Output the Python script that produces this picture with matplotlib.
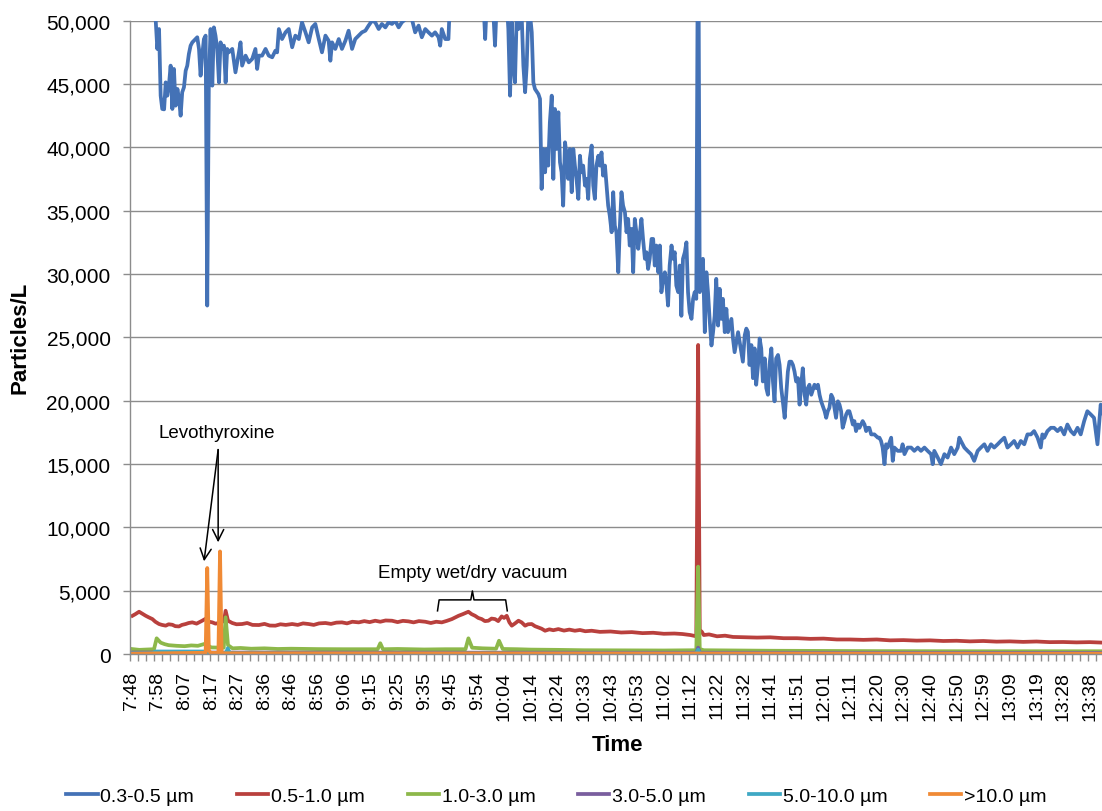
import numpy as np
import matplotlib
matplotlib.use('Agg')
import matplotlib.pyplot as plt
from matplotlib.ticker import FuncFormatter, MultipleLocator

plt.rcParams['font.family'] = ['Liberation Sans', 'DejaVu Sans']

# x is the sample number (one sample ~58 s, first sample at 7:48)
tick_labels = ['7:48', '7:58', '8:07', '8:17', '8:27', '8:36', '8:46', '8:56', '9:06',
               '9:15', '9:25', '9:35', '9:45', '9:54', '10:04', '10:14', '10:24', '10:33',
               '10:43', '10:53', '11:02', '11:12', '11:22', '11:32', '11:41', '11:51',
               '12:01', '12:11', '12:20', '12:30', '12:40', '12:50', '12:59', '13:09',
               '13:19', '13:28', '13:38']
series_names = ['0.3-0.5 µm', '0.5-1.0 µm', '1.0-3.0 µm', '3.0-5.0 µm', '5.0-10.0 µm', '>10.0 µm']
colors = ['#4472b6', '#b9403d', '#8db84a', '#7a5e9e', '#3fa8c4', '#f08a35']

# 0.3-0.5 um (sample, particles/L); values above 50,000 run off the top
blue_pts = [
    (0, 58000), (8.6, 54000), (9.2, 49800), (9.75, 47770), (10.4, 49340), (11.0, 44080),
    (11.6, 43030), (12.3, 43000), (12.9, 45130), (13.5, 44080), (14.1, 44870), (14.75, 46450),
    (15.4, 43030), (16.0, 46190), (16.6, 43290), (17.3, 44610), (17.9, 43820), (18.5, 42500),
    (19.1, 44350), (19.75, 44740), (20.4, 46050), (21.0, 46450), (21.6, 47370), (22.25, 48030),
    (22.9, 48290), (24.1, 48550), (24.75, 48690), (25.4, 47770), (26.0, 45660), (26.6, 47240),
    (27.25, 48550), (27.9, 48820), (28.5, 27510), (29.1, 45130), (29.75, 49340), (30.4, 44870),
    (31.0, 49470), (31.6, 48820), (32.25, 47770), (32.9, 45130), (33.5, 48290), (34.1, 47770),
    (34.75, 48030), (35.4, 45130), (36.0, 47770), (36.6, 47500), (37.9, 47770), (39.1, 45920),
    (40.4, 47500), (41.0, 48290), (41.6, 46450), (42.9, 47240), (44.1, 46710), (45.4, 46980),
    (46.6, 47770), (47.25, 46190), (47.9, 47240), (49.1, 47240), (50.4, 47770), (51.6, 47240),
    (52.9, 47110), (54.1, 47630), (54.75, 47500), (55.4, 49340), (56.6, 48550), (57.9, 49080),
    (59.1, 49340), (60.4, 47900), (61.6, 48820), (62.9, 48550), (64.1, 49870), (65.4, 49080),
    (66.6, 48290), (67.9, 49470), (69.1, 49740), (70.4, 48550), (71.6, 47500), (72.9, 48820),
    (74.1, 48420), (74.75, 46840), (75.4, 48290), (76.6, 47770), (77.9, 48550), (79.1, 47770),
    (80.4, 48420), (81.6, 49210), (82.9, 47770), (84.1, 48550), (85.4, 48820), (86.6, 49080),
    (87.9, 49210), (89.1, 49610), (90.4, 50000), (91.6, 49870), (92.9, 49340), (94.1, 49740),
    (95.4, 49470), (96.6, 49870), (97.9, 49740), (99.1, 50000), (100.4, 49470), (101.6, 49870),
    (102.9, 50100), (104.1, 50200), (105.4, 50100), (106.6, 49080), (107.9, 49610), (109.1, 48690),
    (110.4, 49340), (111.6, 49080), (112.9, 48820), (114.1, 49080), (115.4, 48690), (116.0, 48030),
    (116.6, 49340), (117.9, 48550), (119.1, 48550), (119.75, 52000), (124, 56000), (128, 57000),
    (132.25, 51500), (132.9, 48550), (133.5, 51500), (134.8, 53000), (136.0, 50500), (136.6, 48030),
    (137.25, 51500), (139.0, 55000), (141.0, 51500), (141.6, 49340), (142.25, 44080), (142.9, 49870),
    (143.5, 46450), (144.1, 45130), (144.75, 50500), (145.4, 49340), (146.6, 50500), (147.25, 46450),
    (147.9, 44350), (148.5, 46450), (149.1, 50500), (149.75, 50500), (150.4, 49080), (151.0, 45130),
    (151.6, 44610), (152.9, 44200), (153.5, 43820),
    (154.1, 36720), (154.7, 39870), (155.4, 38030), (156.0, 39870), (156.6, 38560), (157.2, 41980),
    (157.9, 44080), (158.5, 37510), (159.1, 43030), (159.7, 39870), (160.4, 42770), (161.0, 38820),
    (161.6, 38030), (162.2, 35400), (162.9, 40400), (163.5, 39340), (164.1, 37510), (164.7, 39870),
    (165.4, 36460), (166.0, 39870), (166.6, 38560), (167.2, 37510), (167.9, 35930), (168.5, 39340),
    (169.1, 38030), (169.7, 38560), (170.4, 36980), (171.0, 37510), (171.6, 35930), (172.2, 39080),
    (172.9, 40140), (173.5, 36980), (174.1, 35930), (174.7, 38560), (175.4, 39340), (176.0, 38560),
    (176.6, 39600), (177.2, 37770), (177.9, 38560), (178.5, 36980), (179.1, 35400), (179.7, 34610),
    (180.4, 33300), (181.0, 36460), (181.6, 33820), (182.2, 33300), (182.9, 30140), (183.5, 33820),
    (184.1, 36460), (184.7, 35400), (185.4, 34880), (186.0, 33300), (186.6, 34350), (187.2, 32250),
    (187.9, 33560), (188.5, 30140), (189.1, 34350), (189.7, 33300), (190.4, 31990), (191.6, 34350),
    (192.2, 32770), (192.9, 31200), (193.5, 31720), (194.1, 30400), (194.7, 31200), (195.4, 32770),
    (196.0, 32770), (196.6, 30670), (197.2, 32250), (197.9, 30140), (198.5, 32250), (199.1, 28560),
    (199.7, 29620), (200.4, 30140), (201.0, 29090), (201.6, 27510), (202.2, 30670), (202.9, 32250),
    (203.5, 31200), (204.1, 31720), (204.7, 29090), (205.4, 28570), (206.0, 30670), (206.6, 26700),
    (207.2, 31200), (207.9, 31720), (208.5, 32500), (209.1, 28570), (209.7, 26990), (210.4, 26460),
    (211.0, 28040), (211.6, 28570), (212.2, 28040), (212.9, 62000), (213.5, 28570), (214.1, 30140),
    (214.7, 31200), (215.4, 25410), (216.0, 30140), (216.6, 28570), (217.2, 26460), (217.9, 24360),
    (218.5, 25410), (219.1, 26700), (219.7, 29620), (220.4, 25930), (221.0, 28830), (221.6, 26460),
    (222.2, 28040), (222.9, 25410), (223.5, 27250), (224.1, 25410), (225.4, 26460), (226.0, 24880),
    (226.6, 23830), (227.9, 25410), (229.1, 23830),
    (229.7, 23080), (230.4, 25170), (231.0, 25690), (231.6, 25430), (232.2, 22820), (232.9, 24390),
    (233.5, 21780), (234.1, 24130), (234.7, 21260), (235.4, 22820), (236.0, 24910), (236.6, 24130),
    (237.2, 21520), (237.9, 23340), (238.5, 21000), (239.1, 20470), (239.7, 22820), (240.4, 24130),
    (241.0, 21520), (241.6, 19950), (242.2, 23340), (242.9, 23610), (243.5, 22820), (244.1, 21000),
    (244.7, 19950), (245.4, 18650), (246.0, 20470), (246.6, 22300), (247.2, 23080), (247.9, 23080),
    (248.5, 22820), (249.1, 22300), (249.7, 21520), (250.4, 21780), (251.0, 19690), (251.6, 21260),
    (252.2, 22560), (252.9, 20470), (253.5, 19690), (254.1, 21000), (254.7, 21260), (255.4, 20470),
    (256.6, 21260), (257.2, 21000), (257.9, 21260), (258.5, 20470), (259.1, 19950), (260.4, 19170),
    (261.0, 18650), (261.6, 19170), (262.2, 19430), (262.9, 20470), (263.5, 20210), (264.1, 19430),
    (264.7, 18650), (265.4, 19950), (266.0, 19690), (266.6, 19170), (267.2, 17860), (267.9, 18390),
    (268.5, 18910), (269.1, 19170), (269.7, 19170), (270.4, 18650), (271.0, 18120), (271.6, 18390),
    (272.2, 17600), (272.9, 18120), (273.5, 17860), (274.1, 18120), (274.7, 18390), (275.4, 18120),
    (276.0, 17600), (276.6, 17860), (277.2, 17860), (277.9, 17340), (278.5, 17340), (279.1, 17340),
    (280.4, 17080), (281.0, 17080), (281.6, 16820), (282.2, 16300), (282.9, 14990), (283.5, 16560),
    (284.1, 16300), (285.4, 17080), (286.0, 15250), (286.6, 16300), (287.9, 16040), (289.1, 16040),
    (289.7, 16560), (290.4, 15780), (291.6, 16300), (292.9, 16300), (294.1, 16040), (295.4, 16300),
    (296.6, 16040), (297.9, 16300), (299.1, 16040), (300.4, 15780), (301.0, 14990), (301.6, 16040),
    (302.9, 15510), (304.1, 14990), (305.4, 15780), (306.6, 15510), (307.9, 16300), (309.1, 15780),
    (310.4, 16300), (311.0, 17080), (311.6, 16820), (312.9, 16300), (314.1, 16040), (315.4, 15780),
    (316.6, 15250), (317.9, 16040), (319.1, 16300), (320.4, 16560), (321.6, 16040), (322.9, 16560),
    (324.1, 16300), (325.4, 16560), (326.6, 16820), (327.9, 17080), (329.1, 16300), (330.4, 16560),
    (331.6, 16820), (332.9, 16300), (334.1, 16820), (335.4, 16560), (336.6, 17340), (337.9, 17340),
    (339.1, 17600), (340.4, 17080), (341.6, 16300), (342.2, 17340), (342.9, 17080), (344.1, 17600),
    (345.4, 17860), (346.6, 17860), (347.9, 17600), (349.1, 17860), (350.4, 17340), (351.6, 18120),
    (352.9, 17600), (354.1, 17340), (355.4, 17860), (356.6, 17340), (357.9, 18390), (359.1, 19170),
    (360.4, 18910), (361.6, 18650), (362.9, 16560), (364.1, 19690), (365.0, 19000),
]

# 0.5-1.0 um
red_pts = [
    (0.4, 3020), (1.5, 3150), (2.9, 3340), (4.0, 3200), (5.4, 3020), (6.5, 2900), (7.9, 2760),
    (9.0, 2550), (10.4, 2370), (11.5, 2300), (12.9, 2240), (14.0, 2350), (15.4, 2310), (16.5, 2200),
    (17.9, 2180), (19.0, 2300), (20.4, 2370), (21.5, 2450), (22.9, 2500), (24.5, 2400), (26.6, 2630),
    (28.0, 2800), (29.2, 2550), (30.4, 2500), (31.6, 2400), (32.9, 2450), (34.8, 2600), (35.4, 3420),
    (36.3, 2630), (37.9, 2450), (39.5, 2350), (41.6, 2370), (43.5, 2450), (45.5, 2300), (47.9, 2290),
    (50, 2380), (52, 2250), (54.1, 2240), (56, 2350), (58, 2300), (60.4, 2370), (62.5, 2300),
    (64.5, 2420), (66.6, 2370), (68.5, 2300), (70.5, 2420), (72.9, 2450), (75, 2380), (77, 2480),
    (79.1, 2500), (81, 2420), (83, 2550), (85.4, 2500), (87.5, 2600), (89.5, 2520), (91.6, 2630),
    (93.5, 2550), (95.5, 2650), (97.9, 2630), (100, 2520), (102, 2620), (104.1, 2580), (106, 2500),
    (108, 2600), (110.4, 2550), (112.5, 2450), (114.5, 2550), (116.6, 2500), (118.5, 2620),
    (120.4, 2760), (122.9, 3020), (124.5, 3150), (126.6, 3340), (127.8, 3150), (129.1, 3020),
    (130.3, 2850), (131.6, 2760), (132.8, 2600), (134.1, 2630), (135.3, 2800), (136.6, 2760),
    (137.8, 2600), (139.1, 2970), (140.0, 2850), (141.0, 3020), (142.0, 2500), (142.9, 2240),
    (144.0, 2400), (145.4, 2630), (146.6, 2500), (147.9, 2240), (149.0, 2350), (150.4, 2370),
    (151.6, 2200), (152.9, 2100), (154.1, 2000), (155.4, 1840), (157, 1950), (158.5, 1880),
    (160.4, 1970), (162.5, 1850), (164.5, 1930), (166.6, 1840), (168.5, 1900), (170.5, 1800),
    (172.9, 1840), (176, 1750), (180, 1780), (184, 1700), (188, 1730), (192, 1650), (196, 1680),
    (200, 1600), (204, 1620), (207, 1580), (210, 1500), (212.2, 1400), (212.9, 24400), (213.5, 1900),
    (214.3, 1750), (215, 1500), (217, 1550), (220, 1400), (223, 1450), (226, 1350), (230, 1330),
    (235, 1300), (240, 1320), (245, 1250), (250, 1250), (255, 1200), (260, 1220), (265, 1150),
    (270, 1150), (275, 1120), (280, 1150), (285, 1080), (290, 1100), (295, 1060), (300, 1080),
    (305, 1030), (310, 1050), (315, 1000), (320, 1030), (325, 980), (330, 1000), (335, 960),
    (340, 990), (345, 940), (350, 950), (355, 920), (360, 940), (365.0, 900),
]

# 1.0-3.0 um
green_pts = [
    (0, 400), (3, 330), (5, 350), (8.5, 380), (9.5, 1240), (11, 900), (12.5, 780), (14, 700),
    (17, 650), (20, 620), (22.5, 680), (25, 650), (27.5, 800), (28.5, 700), (30, 520), (34.7, 500),
    (35.4, 2900), (36.3, 700), (38, 450), (41, 480), (45, 420), (50, 450), (55, 400), (60, 420),
    (70, 390), (80, 380), (92.5, 380), (93.5, 850), (94.5, 380), (100, 400), (110, 360),
    (118, 380), (125.5, 380), (126.6, 1240), (128, 500), (132, 450), (137, 420), (138.1, 1050),
    (139.5, 400), (145, 380), (150, 350), (160, 330), (170, 300), (185, 290), (200, 280),
    (212.2, 300), (212.9, 6900), (213.5, 400), (215, 300), (240, 260), (280, 230), (320, 220),
    (365.0, 220),
]

# 3.0-5.0 um
purple_pts = [(0, 120), (100, 110), (212.2, 100), (212.9, 500), (213.5, 100), (365.0, 90)]

# 5.0-10.0 um
cyan_pts = [
    (0, 60), (8, 60), (9, 200), (28, 200), (29, 60), (35.5, 60), (36.2, 450), (37, 60),
    (60, 40), (212.2, 40), (212.9, 350), (213.5, 40), (365.0, 30),
]

# >10.0 um
orange_pts = [
    (0, 30), (27.9, 100), (28.5, 6790), (29.1, 300), (29.7, 100), (32.7, 80), (33.3, 8100),
    (33.9, 60), (365.0, 30),
]

all_series = [blue_pts, red_pts, green_pts, purple_pts, cyan_pts, orange_pts]

fig = plt.figure(figsize=(11.02, 8.12), dpi=100)
ax = fig.add_axes([0.118, 0.1933, 0.882, 0.78])

for pts, name, c in zip(all_series, series_names, colors):
    t = [p[0] for p in pts]
    v = [p[1] for p in pts]
    ax.plot(t, v, color=c, lw=2.7, label=name, solid_joinstyle='round')

ax.set_xlim(-0.5, 364.6)
ax.set_ylim(0, 50000)
ax.yaxis.set_major_locator(MultipleLocator(5000))
ax.yaxis.set_major_formatter(FuncFormatter(lambda v, p: f'{v:,.0f}'))
ax.grid(axis='y', color='#8c8c8c', lw=1)
ax.set_axisbelow(True)

ax.set_xticks(np.arange(0, 361, 10))
ax.set_xticklabels(tick_labels, rotation=90, fontsize=14)
ax.set_xticks(np.arange(-0.5, 365, 3), minor=True)
ax.tick_params(axis='x', which='major', length=0, pad=12)
ax.tick_params(axis='x', which='minor', length=5, width=1, color='#8c8c8c')
ax.tick_params(axis='y', length=5, width=1, color='#8c8c8c', pad=9, labelsize=15)

for s in ['top', 'right']:
    ax.spines[s].set_visible(False)
for s in ['left', 'bottom']:
    ax.spines[s].set_color('#8c8c8c')
    ax.spines[s].set_linewidth(1)

fig.text(20 / 1102, 1 - 338 / 812, 'Particles/L', rotation=90, ha='center', va='center',
         fontsize=16, fontweight='bold')
fig.text(617 / 1102, 1 - 746 / 812, 'Time', ha='center', va='center',
         fontsize=16, fontweight='bold')

# annotations
ax.text(32.2, 17480, 'Levothyroxine', ha='center', va='center', fontsize=13.5)
arrow = dict(arrowstyle='->', lw=1.1, color='black', mutation_scale=20, shrinkA=0, shrinkB=0)
ax.annotate('', xy=(27.3, 7320), xytext=(32.6, 16140), arrowprops=arrow)
ax.annotate('', xy=(32.6, 8820), xytext=(32.6, 16140), arrowprops=arrow)

ax.text(128.2, 6460, 'Empty wet/dry vacuum', ha='center', va='center', fontsize=13.5)
brace_t = [115.0, 115.6, 127.5, 128.1, 128.7, 140.6, 141.2]
brace_v = [3410, 4275, 4275, 4980, 4275, 4275, 3410]
ax.plot(brace_t, brace_v, color='black', lw=1.1, solid_joinstyle='round')

fig.legend(loc='center', bbox_to_anchor=(0.505, 0.0185), ncol=6, frameon=False,
           fontsize=14, handlelength=1.6, handletextpad=0.15, columnspacing=2.2)

fig.savefig('out.png', dpi=100)
